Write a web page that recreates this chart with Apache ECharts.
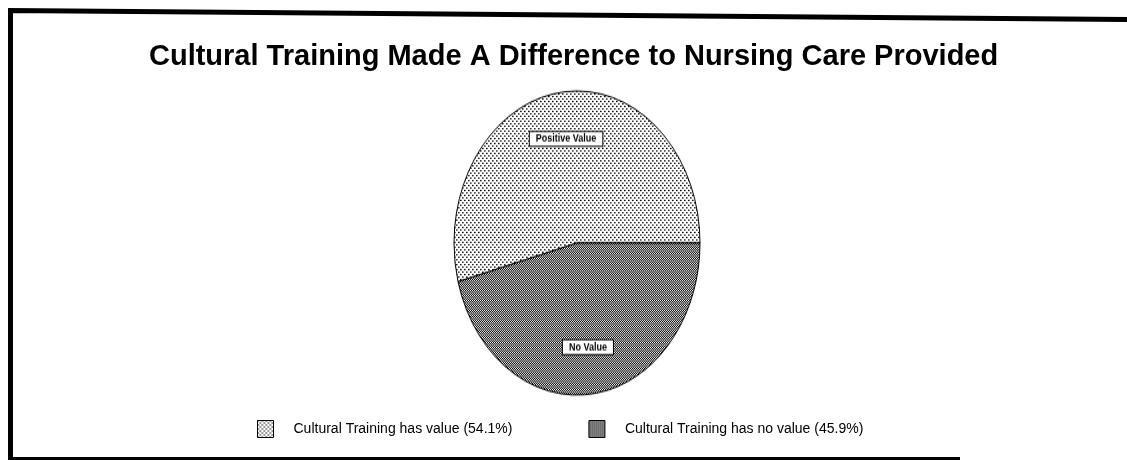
<!DOCTYPE html>
<html>
<head>
<meta charset="utf-8">
<title>Cultural Training Made A Difference to Nursing Care Provided</title>
<script src="https://cdn.jsdelivr.net/npm/echarts@6/dist/echarts.min.js"></script>
<style>
  html, body { margin: 0; padding: 0; background: #fff; overflow: hidden; }
  #pie, #main { position: absolute; left: 0; top: 0; width: 1127px; height: 460px; }
  /* the original pie is an ellipse, so the pie layer is stretched vertically */
  #pie { transform: scaleY(1.236); transform-origin: 0 243px; }
</style>
</head>
<body>
<div id="pie"></div>
<div id="main"></div>
<script>
var titleText = 'Cultural Training Made A Difference to Nursing Care Provided';
var sliceNames = ['Positive Value', 'No Value'];
var sliceValues = [54.1, 45.9];
var legendLabels = ['Cultural Training has value (54.1%)', 'Cultural Training has no value (45.9%)'];

var FONT = '"Liberation Sans", Arial, Helvetica, sans-serif';

// small bitmap tiles to imitate the printed stipple / crosshatch fills
function makeTile(size, cells) {
  var c = document.createElement('canvas');
  c.width = size;
  c.height = size;
  var ctx = c.getContext('2d');
  ctx.fillStyle = '#fff';
  ctx.fillRect(0, 0, size, size);
  cells.forEach(function (p) {
    ctx.fillStyle = p[2] || '#000';
    ctx.fillRect(p[0], p[1], 1, 1);
  });
  return { image: c, repeat: 'repeat' };
}

var fills = [
  makeTile(4, [[0, 0], [2, 2], [1, 0, '#666'], [3, 2, '#666']]),
  makeTile(2, [[0, 0], [1, 1], [1, 0, '#e0e0e0']])
];

function sliceData() {
  return sliceNames.map(function (n, i) {
    return { name: n, value: sliceValues[i], itemStyle: { color: fills[i] } };
  });
}

var pieChart = echarts.init(document.getElementById('pie'));
pieChart.setOption({
  animation: false,
  series: [
    {
      type: 'pie',
      center: [577, 243],
      radius: [0, 123],
      startAngle: 0,
      clockwise: false,
      silent: true,
      label: { show: false },
      labelLine: { show: false },
      itemStyle: { borderColor: '#000', borderWidth: 1 },
      data: sliceData()
    },
    {
      // transparent copy, only used to put the boxed labels further out
      type: 'pie',
      center: [577, 243],
      radius: [0, 164],
      startAngle: 0,
      clockwise: false,
      silent: true,
      itemStyle: { color: 'rgba(0,0,0,0)', borderWidth: 0 },
      labelLine: { show: false },
      label: {
        show: true,
        position: 'inside',
        color: '#000',
        fontFamily: FONT,
        fontSize: 9,
        fontWeight: 'bold',
        lineHeight: 9,
        backgroundColor: '#fff',
        borderColor: '#000',
        borderWidth: 1,
        padding: [1, 6]
      },
      data: sliceNames.map(function (n, i) { return { name: n, value: sliceValues[i] }; })
    }
  ]
});

var mainChart = echarts.init(document.getElementById('main'));
mainChart.setOption({
  animation: false,
  title: {
    text: titleText,
    left: 149,
    top: 42,
    padding: 0,
    textStyle: { fontFamily: FONT, fontSize: 29, fontWeight: 'bold', color: '#000' }
  },
  legend: {
    left: 257,
    top: 420,
    padding: 0,
    icon: 'rect',
    itemWidth: 16,
    itemHeight: 17,
    itemGap: 76,
    selectedMode: false,
    itemStyle: { borderColor: '#000', borderWidth: 1 },
    formatter: function (name) {
      return legendLabels[sliceNames.indexOf(name)];
    },
    textStyle: { fontFamily: FONT, fontSize: 14, color: '#000', padding: [0, 0, 0, 15] },
    data: sliceNames
  },
  graphic: [
    {
      type: 'polyline',
      shape: { points: [[1127, 19.5], [10.5, 10.5], [10.5, 460]] },
      style: { stroke: '#000', lineWidth: 5, fill: null }
    },
    {
      type: 'line',
      shape: { x1: 10, y1: 458.5, x2: 960, y2: 458.5 },
      style: { stroke: '#000', lineWidth: 3 }
    }
  ],
  series: [
    {
      // zero-size pie that only feeds the legend
      type: 'pie',
      radius: [0, 0],
      silent: true,
      label: { show: false },
      labelLine: { show: false },
      data: sliceData()
    }
  ]
});
</script>
</body>
</html>
